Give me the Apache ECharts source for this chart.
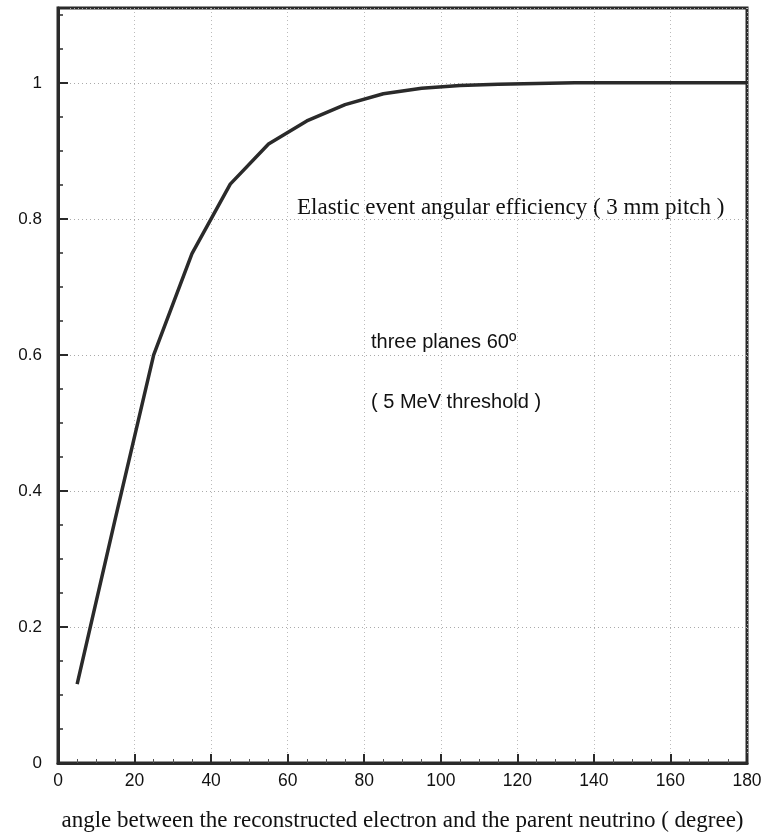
<!DOCTYPE html>
<html>
<head>
<meta charset="utf-8">
<script src="https://cdn.jsdelivr.net/npm/echarts@6/dist/echarts.min.js"></script>
<style>html,body{margin:0;padding:0;background:#fff}#c{width:766px;height:837px}</style>
</head>
<body>
<div id="c"></div>
<script>
const angles = [5, 15, 25, 35, 45, 55, 65, 75, 85, 95, 105, 115, 125, 135, 145, 155, 165, 175, 180];
const efficiency = [0.116, 0.36, 0.60, 0.749, 0.851, 0.91, 0.944, 0.968, 0.984, 0.992, 0.996, 0.998, 0.999, 1.0, 1.0, 1.0, 1.0, 1.0, 1.0];
const xTicks = [0, 20, 40, 60, 80, 100, 120, 140, 160, 180];
const yTicks = [0, 0.2, 0.4, 0.6, 0.8, 1];
const xTitle = 'angle between the reconstructed electron and the parent neutrino ( degree)';
const notes = ['Elastic event angular efficiency ( 3 mm pitch )', 'three planes 60\u00BA', '( 5 MeV threshold )'];

const chart = echarts.init(document.getElementById('c'));
const ink = '#2a2a2a';
chart.setOption({
  animation: false,
  grid: { left: 58, right: 19, top: 8, bottom: 71, show: true, borderColor: ink, borderWidth: 3, backgroundColor: 'transparent' },
  xAxis: {
    type: 'value', min: 0, max: 180, interval: 20,
    axisLine: { show: true, onZero: false, lineStyle: { color: ink, width: 3 } },
    axisTick: { show: true, inside: true, length: 9, lineStyle: { color: ink, width: 2 } },
    minorTick: { show: true, splitNumber: 4, length: 4, lineStyle: { color: '#555', width: 1 } },
    axisLabel: { color: '#111', fontFamily: 'Liberation Sans', fontSize: 17.5, margin: 9,
      formatter: v => xTicks.includes(v) ? String(v) : '' },
    splitLine: { show: true, lineStyle: { color: '#bbb', type: [1, 3], width: 1 } },
    name: xTitle, nameLocation: 'middle', nameGap: 46,
    nameTextStyle: { fontFamily: 'Liberation Serif', fontSize: 23, color: '#111' }
  },
  yAxis: {
    type: 'value', min: 0, max: 1.11, interval: 0.2,
    axisLine: { show: true, onZero: false, lineStyle: { color: ink, width: 3 } },
    axisTick: { show: true, inside: true, length: 10, lineStyle: { color: ink, width: 2 } },
    minorTick: { show: true, splitNumber: 4, length: 5, lineStyle: { color: ink, width: 1.5 } },
    axisLabel: { color: '#111', fontFamily: 'Liberation Sans', fontSize: 17, margin: 16, showMaxLabel: false,
      formatter: v => { const t = yTicks.find(y => Math.abs(y - v) < 1e-6); return t === undefined ? '' : String(t); } },
    splitLine: { show: true, lineStyle: { color: '#aaa', type: [1, 3], width: 1 } }
  },
  series: [{
    type: 'line', data: angles.map((a, i) => [a, efficiency[i]]),
    showSymbol: false, lineStyle: { color: ink, width: 3.5 }, clip: false
  }],
  graphic: [
    { type: 'text', left: 297, top: 196, style: { text: notes[0], font: '23px "Liberation Serif"', fill: '#111' } },
    { type: 'text', left: 371, top: 332, style: { text: notes[1], font: '20px "Liberation Sans"', fill: '#111' } },
    { type: 'text', left: 371, top: 392, style: { text: notes[2], font: '20px "Liberation Sans"', fill: '#111' } }
  ]
});
</script>
</body>
</html>
